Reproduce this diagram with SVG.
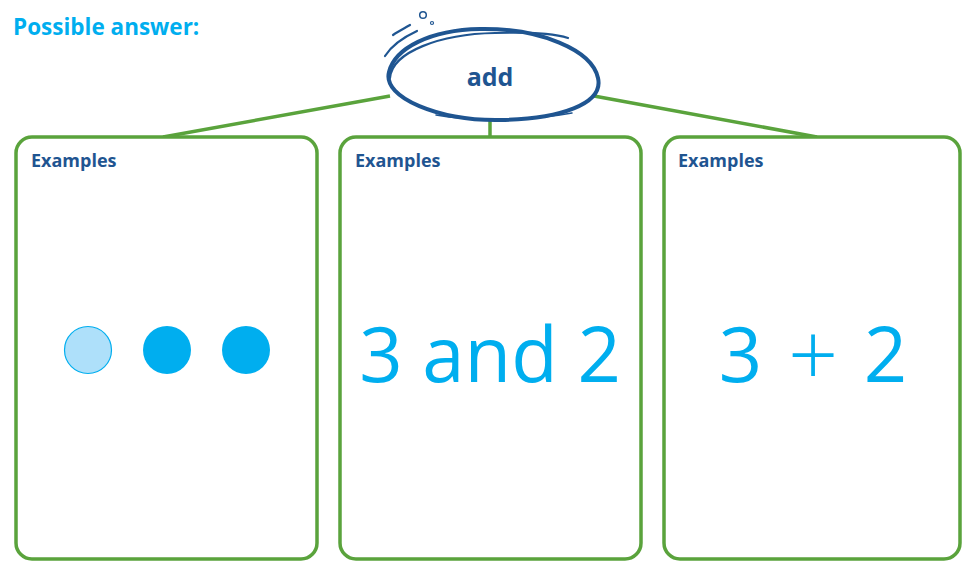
<svg xmlns="http://www.w3.org/2000/svg" width="962" height="561" viewBox="0 0 962 561">
<style>
.box{fill:#fff;stroke:#5aa33c;stroke-width:3.5}
.conn{stroke:#5aa33c;stroke-width:3.5;fill:none}
.ex{font-family:"Open Sans","Liberation Sans",sans-serif;font-weight:bold;font-size:18px;fill:#1f5591}
.big{font-family:"Open Sans","Liberation Sans",sans-serif;font-size:76px;fill:#00aeef;text-anchor:middle}
.ell{fill:none;stroke:#1f5591;stroke-linecap:round}
</style>
<rect width="962" height="561" fill="#fff"/>
<text x="13" y="35" font-family="'Open Sans','Liberation Sans',sans-serif" font-weight="bold" font-size="22.5" fill="#00aeef">Possible answer:</text>
<g id="connectors">
<line class="conn" x1="390" y1="96" x2="163" y2="137"/>
<line class="conn" x1="490" y1="118" x2="490" y2="137"/>
<line class="conn" x1="594" y1="96" x2="817" y2="137"/>
</g>
<g id="node-add">
<ellipse cx="492" cy="75" rx="106" ry="45" fill="#fff"/>
<path class="ell" stroke-width="4" d="M389,72 C382,98 440,121 500,120 C560,119 604,104 598,78 C592,50 540,28 480,29 C430,30 395,48 389,72"/>
<path class="ell" stroke-width="2.2" d="M390,78 C392,52 440,34 495,33 C530,32 555,34 568,38"/>
<path class="ell" stroke-width="1.5" d="M436,115 C470,121 530,121 572,113"/>
<path class="ell" stroke-width="2.2" d="M385,56 C392,45 404,37 417,31"/>
<path class="ell" stroke-width="2.2" d="M393,35 C399,31 405,28 410,25"/>
<circle cx="423" cy="15" r="3.3" class="ell" stroke-width="1.5"/>
<circle cx="432" cy="23" r="1.5" class="ell" stroke-width="1.2"/>
<text x="490" y="86" text-anchor="middle" font-family="'Open Sans','Liberation Sans',sans-serif" font-weight="bold" font-size="25" fill="#1f5591">add</text>
</g>
<g id="node-dots">
<rect class="box" x="16" y="137" width="301" height="422" rx="16"/>
<text class="ex" x="31" y="167">Examples</text>
<circle cx="88" cy="350" r="23.5" fill="#aee0fa" stroke="#00aeef" stroke-width="1.2"/>
<circle cx="167" cy="350" r="24" fill="#00aeef"/>
<circle cx="246" cy="350" r="24" fill="#00aeef"/>
</g>
<g id="node-words">
<rect class="box" x="340" y="137" width="301" height="422" rx="16"/>
<text class="ex" x="355" y="167">Examples</text>
<text class="big" x="490" y="382">3 and 2</text>
</g>
<g id="node-symbols">
<rect class="box" x="664" y="137" width="296" height="422" rx="16"/>
<text class="ex" x="678" y="167">Examples</text>
<text class="big" x="813" y="382" word-spacing="6">3 <tspan font-size="88" font-weight="300" dy="4">+</tspan> <tspan dy="-4">2</tspan></text>
</g>
</svg>
